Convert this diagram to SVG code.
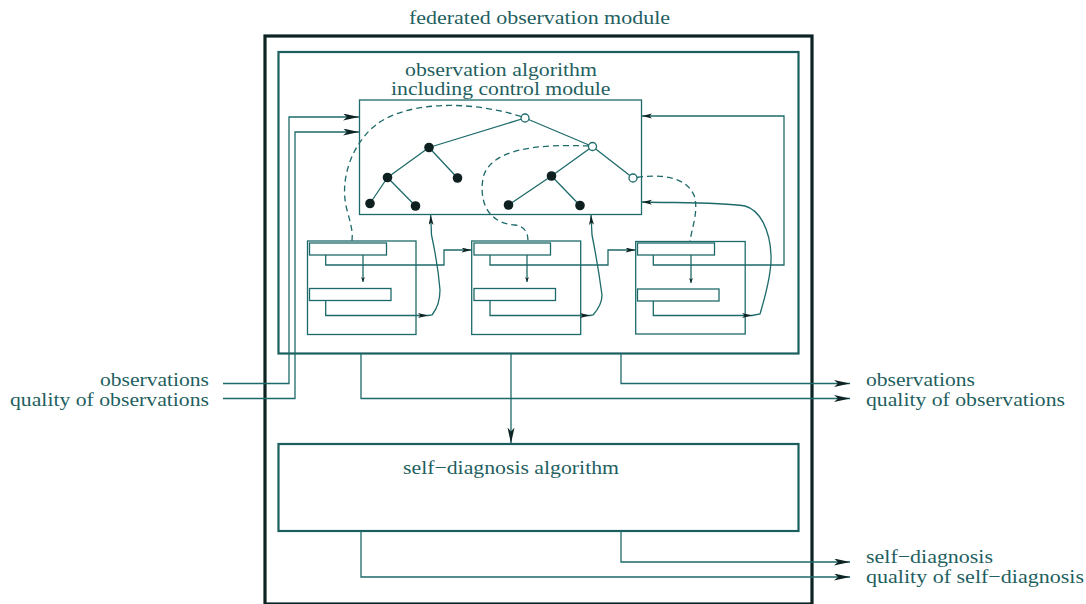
<svg xmlns="http://www.w3.org/2000/svg" width="1086" height="604" viewBox="0 0 1086 604">
<style>
.ln{fill:none;stroke:#1e6a6a;stroke-width:1.3}
.thick{fill:none;stroke:#0d2222;stroke-width:3.2}
.med{fill:none;stroke:#1a5e5e;stroke-width:2.2}
.dash{fill:none;stroke:#1e6a6a;stroke-width:1.3;stroke-dasharray:6 4}
.dot{fill:#0e2020;stroke:none}
.open{fill:#fff;stroke:#1e6a6a;stroke-width:1.3}
text{font-family:"Liberation Serif","Times New Roman",serif;font-size:19px;fill:#1f5f5f}
</style>
<defs>
<marker id="big" markerWidth="17" markerHeight="8" refX="16" refY="3.5" orient="auto" markerUnits="userSpaceOnUse"><path d="M0,0 L16,3.5 L0,7 L4,3.5 z" fill="#0e2424"/></marker>
<marker id="sm" markerWidth="11" markerHeight="6" refX="10" refY="2.5" orient="auto" markerUnits="userSpaceOnUse"><path d="M0,0 L10,2.5 L0,5 L2.5,2.5 z" fill="#0e2424"/></marker>
<marker id="tiny" markerWidth="6" markerHeight="5" refX="5" refY="2" orient="auto" markerUnits="userSpaceOnUse"><path d="M0,0 L5,2 L0,4 L1.5,2 z" fill="#0e2424"/></marker>
</defs>
<rect width="1086" height="604" fill="#fff"/>

<g id="federated-module">
<rect class="thick" x="265" y="36" width="547" height="568"/>
<text x="409" y="24" textLength="261" lengthAdjust="spacingAndGlyphs">federated observation module</text>
</g>

<g id="observation-module">
<rect class="med" x="278.5" y="52" width="520" height="301.5"/>
<text x="405" y="76" textLength="192" lengthAdjust="spacingAndGlyphs">observation algorithm</text>
<text x="391" y="95" textLength="219.5" lengthAdjust="spacingAndGlyphs">including control module</text>
</g>

<g id="algorithm">
<rect class="ln" x="359.5" y="100" width="282" height="114.5"/>
<g id="tree-edges">
<path class="ln" d="M525,118 L429,147.5 M525,118 L592.5,146.5 M429,147.5 L387.5,177.5 M429,147.5 L457.5,178 M387.5,177.5 L370,203.5 M387.5,177.5 L415.5,206 M592.5,146.5 L551.5,176 M592.5,146.5 L633,178 M551.5,176 L508.5,205 M551.5,176 L580,205.5"/>
</g>
<g id="tree-nodes">
<circle class="open" cx="525" cy="118" r="4"/>
<circle class="open" cx="592.5" cy="146.5" r="4"/>
<circle class="open" cx="633" cy="178" r="4"/>
<circle class="dot" cx="429" cy="147.5" r="4.8"/>
<circle class="dot" cx="387.5" cy="177.5" r="4.8"/>
<circle class="dot" cx="457.5" cy="178" r="4.8"/>
<circle class="dot" cx="370" cy="203.5" r="4.8"/>
<circle class="dot" cx="415.5" cy="206" r="4.8"/>
<circle class="dot" cx="551.5" cy="176" r="4.8"/>
<circle class="dot" cx="508.5" cy="205" r="4.8"/>
<circle class="dot" cx="580" cy="205.5" r="4.8"/>
</g>
</g>

<g id="module-1">
<rect class="ln" x="307.5" y="241" width="108.5" height="93.5"/>
<rect class="ln" x="309.5" y="243" width="77" height="12"/>
<rect class="ln" x="309.5" y="288.5" width="81.5" height="12"/>
</g>
<g id="module-2">
<rect class="ln" x="471.7" y="241" width="109" height="93.5"/>
<rect class="ln" x="474" y="243" width="76.5" height="12"/>
<rect class="ln" x="474" y="288.5" width="81.5" height="12"/>
</g>
<g id="module-3">
<rect class="ln" x="635.7" y="241.5" width="109.5" height="92.5"/>
<rect class="ln" x="637.5" y="243" width="77" height="12"/>
<rect class="ln" x="637.5" y="289" width="81.5" height="12"/>
</g>

<g id="self-diagnosis">
<rect class="med" x="278.5" y="444" width="520" height="87"/>
<text x="403" y="474" textLength="216" lengthAdjust="spacingAndGlyphs">self−diagnosis algorithm</text>
</g>

<g id="labels">
<text x="100" y="386" textLength="109" lengthAdjust="spacingAndGlyphs">observations</text>
<text x="10" y="406" textLength="199" lengthAdjust="spacingAndGlyphs">quality of observations</text>
<text x="866" y="386" textLength="109" lengthAdjust="spacingAndGlyphs">observations</text>
<text x="866" y="406" textLength="199" lengthAdjust="spacingAndGlyphs">quality of observations</text>
<text x="866" y="563" textLength="127" lengthAdjust="spacingAndGlyphs">self−diagnosis</text>
<text x="866" y="583" textLength="218" lengthAdjust="spacingAndGlyphs">quality of self−diagnosis</text>
</g>

<g id="connectors">
<path class="ln" d="M223,383.5 H289 V117 H359" marker-end="url(#big)"/>
<path class="ln" d="M223,398.5 H295 V132 H359" marker-end="url(#big)"/>
<path class="ln" d="M621,353.5 V383.5 H850" marker-end="url(#big)"/>
<path class="ln" d="M361,353.5 V398.5 H850" marker-end="url(#big)"/>
<path class="ln" d="M511,353.5 V443.5" marker-end="url(#big)"/>
<path class="ln" d="M621,531 V562 H850" marker-end="url(#big)"/>
<path class="ln" d="M361,531 V577 H850" marker-end="url(#big)"/>

<path class="ln" d="M363,255 V282" marker-end="url(#tiny)"/>
<path class="ln" d="M325.7,255 V265 H444 V250 H471.5" marker-end="url(#sm)"/>
<path class="ln" d="M325.7,300.5 V315.5 H428" marker-end="url(#sm)"/>
<path class="ln" d="M428,315.5 L432,315 Q440,305 440,290 Q438,265 431.5,235 L430.7,215" marker-end="url(#sm)"/>

<path class="ln" d="M527,255 V282" marker-end="url(#tiny)"/>
<path class="ln" d="M490,255 V265 H608 V250 H635.5" marker-end="url(#sm)"/>
<path class="ln" d="M490,300.5 V315.5 H590" marker-end="url(#sm)"/>
<path class="ln" d="M590,315.5 L593,315 Q602,305 602,295 Q598,265 592,235 L591,215" marker-end="url(#sm)"/>

<path class="ln" d="M691,255 V283" marker-end="url(#tiny)"/>
<path class="ln" d="M653.3,255 V265 H784 V116 H642" marker-end="url(#sm)"/>
<path class="ln" d="M653.3,301 V315.5 H752" marker-end="url(#sm)"/>
<path class="ln" d="M752,315.5 L760,314 C764,300 772,275 771,255 C770,230 760,210 745,206 C720,202 680,203 642,202" marker-end="url(#sm)"/>

<path class="dash" d="M521,116.5 C470,100 400,100 370,130 C348,152 340,185 347,210 S352,235 352,241"/>
<path class="dash" d="M589,146 C540,144 490,148 483,178 C478,210 495,224 515,225 C524,226 528,232 528,241"/>
<path class="dash" d="M637,177.5 C660,174 685,176 694,195 C699,210 692,228 690,241"/>
</g>
</svg>
